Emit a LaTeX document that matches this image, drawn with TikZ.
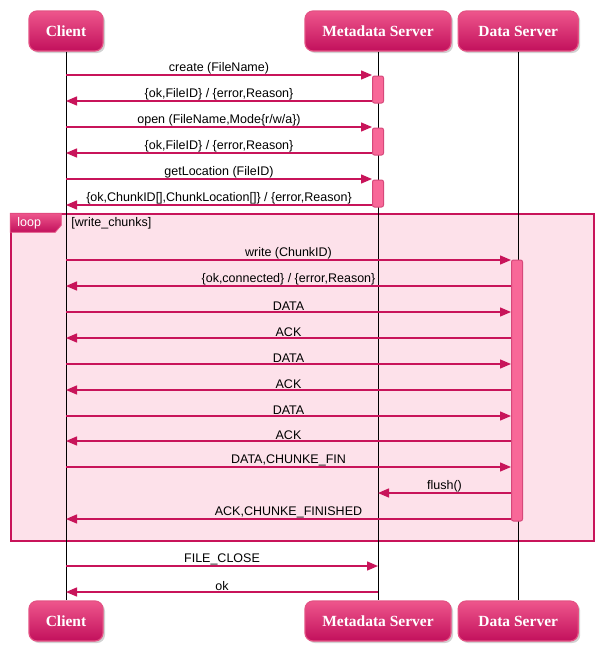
\documentclass[tikz,border=0pt]{standalone}
\usepackage{fontspec}
\setmainfont{Liberation Serif}
\setsansfont{Liberation Sans}
\usetikzlibrary{arrows.meta}
\usetikzlibrary{shadows}
\usetikzlibrary{positioning}
\usetikzlibrary{calc}
\definecolor{umlpink}{RGB}{200,20,90}
\definecolor{headtop}{RGB}{238,86,140}
\definecolor{headbot}{RGB}{194,16,92}
\definecolor{headline}{RGB}{228,82,132}
\definecolor{loopfill}{RGB}{253,225,234}
\definecolor{actfill}{RGB}{248,104,152}
\definecolor{actline}{RGB}{214,72,122}
\tikzset{actor/.style={draw=headline, line width=1.2pt, rounded corners=8pt, top color=headtop, bottom color=headbot, minimum height=40pt, text=white, font=\bfseries\fontsize{15.5}{18}\selectfont, drop shadow={opacity=0.35, shadow xshift=2pt, shadow yshift=-2pt}}}
\tikzset{lifeline/.style={draw, line width=0.8pt}}
\tikzset{msg/.style={draw=umlpink, line width=1.4pt, -{Triangle[length=11pt,width=9pt]}}}
\tikzset{lbl/.style={above, inner sep=0.5pt, font=\sffamily\fontsize{12.5}{14}\selectfont}}
\tikzset{activation/.style={draw=actline, fill=actfill, line width=1pt, rounded corners=2pt, minimum width=11pt, inner sep=0pt}}
\tikzset{loopbox/.style={draw=umlpink, fill=loopfill, line width=1.5pt, inner sep=0pt}}
\begin{document}
\begin{tikzpicture}[x=1pt,y=-1pt]
\fill[white] (0,0) rectangle (602,648);
\useasboundingbox (0,0) rectangle (602,648);

%participants
\node[actor, minimum width=74pt] (clientTop) at (66,31) {Client};
\node[actor, minimum width=146pt] (metaTop) at (378,31) {Metadata Server};
\node[actor, minimum width=120pt, right=6pt of metaTop] (dataTop) {Data Server};
\node[actor, minimum width=74pt] (clientBot) at ([yshift=-590pt]clientTop) {Client};
\node[actor, minimum width=146pt] (metaBot) at ([yshift=-590pt]metaTop) {Metadata Server};
\node[actor, minimum width=120pt] (dataBot) at ([yshift=-590pt]dataTop) {Data Server};

%loop frame
\node[loopbox, minimum width=583pt, minimum height=327pt] (loop) at (302.5,377.5) {};

%lifelines
\path[lifeline] (clientTop.south) -- (clientBot.north);
\path[lifeline] (metaTop.south) -- (metaBot.north);
\path[lifeline] (dataTop.south) -- (dataBot.north);

%loop tab
\path[top color=headtop, bottom color=headbot, draw=headline, line width=0.8pt] (loop.north west) -- ++(51,0) -- ++(0,12) -- ++(-6,7) -- ++(-45,0) -- cycle;
\node[text=white, font=\sffamily\fontsize{12.5}{14}\selectfont] (looptag) at ([xshift=19pt,yshift=-10pt]loop.north west) {loop};
\node[anchor=west, inner sep=0pt, font=\sffamily\fontsize{12.5}{14}\selectfont] (guard) at ([xshift=61pt,yshift=-10pt]loop.north west) {[write\_chunks]};

%message rows
\coordinate (create) at (0,75);
\coordinate (createok) at (0,101);
\coordinate (open) at (0,127);
\coordinate (openok) at (0,153);
\coordinate (getloc) at (0,179);
\coordinate (getlocok) at (0,205);
\coordinate (write) at (0,260);
\coordinate (writeok) at (0,286);
\coordinate (dataA) at (0,312);
\coordinate (ackA) at (0,338);
\coordinate (dataB) at (0,364);
\coordinate (ackB) at (0,390);
\coordinate (dataC) at (0,416);
\coordinate (ackC) at (0,441);
\coordinate (datafin) at (0,467);
\coordinate (flush) at (0,493);
\coordinate (ackfin) at (0,519);
\coordinate (close) at (0,566);
\coordinate (closeok) at (0,592);

%activations
\node[activation, minimum height=27pt] (actCreate) at (378,89.5) {};
\node[activation, minimum height=27pt] (actOpen) at (378,141.5) {};
\node[activation, minimum height=27pt] (actLoc) at (378,193.5) {};
\node[activation, minimum height=261pt] (actWrite) at (517,390.5) {};

%metadata requests
\path[msg] (clientTop |- create) -- node[lbl]{create (FileName)} (actCreate.west |- create);
\path[msg] (actCreate.west |- createok) -- node[lbl]{\{ok,FileID\} / \{error,Reason\}} (clientTop |- createok);
\path[msg] (clientTop |- open) -- node[lbl]{open (FileName,Mode\{r/w/a\})} (actOpen.west |- open);
\path[msg] (actOpen.west |- openok) -- node[lbl]{\{ok,FileID\} / \{error,Reason\}} (clientTop |- openok);
\path[msg] (clientTop |- getloc) -- node[lbl]{getLocation (FileID)} (actLoc.west |- getloc);
\path[msg] (actLoc.west |- getlocok) -- node[lbl]{\{ok,ChunkID[],ChunkLocation[]\} / \{error,Reason\}} (clientTop |- getlocok);

%write chunks
\path[msg] (clientTop |- write) -- node[lbl]{write (ChunkID)} (actWrite.west |- write);
\path[msg] (actWrite.west |- writeok) -- node[lbl]{\{ok,connected\} / \{error,Reason\}} (clientTop |- writeok);
\path[msg] (clientTop |- dataA) -- node[lbl]{DATA} (actWrite.west |- dataA);
\path[msg] (actWrite.west |- ackA) -- node[lbl]{ACK} (clientTop |- ackA);
\path[msg] (clientTop |- dataB) -- node[lbl]{DATA} (actWrite.west |- dataB);
\path[msg] (actWrite.west |- ackB) -- node[lbl]{ACK} (clientTop |- ackB);
\path[msg] (clientTop |- dataC) -- node[lbl]{DATA} (actWrite.west |- dataC);
\path[msg] (actWrite.west |- ackC) -- node[lbl]{ACK} (clientTop |- ackC);
\path[msg] (clientTop |- datafin) -- node[lbl]{DATA,CHUNKE\_FIN} (actWrite.west |- datafin);
\path[msg] (actWrite.west |- flush) -- node[lbl]{flush()} (metaTop |- flush);
\path[msg] (actWrite.west |- ackfin) -- node[lbl]{ACK,CHUNKE\_FINISHED} (clientTop |- ackfin);

%close
\path[msg] (clientTop |- close) -- node[lbl]{FILE\_CLOSE} (metaTop |- close);
\path[msg] (metaTop |- closeok) -- node[lbl]{ok} (clientTop |- closeok);

\end{tikzpicture}
\end{document}
